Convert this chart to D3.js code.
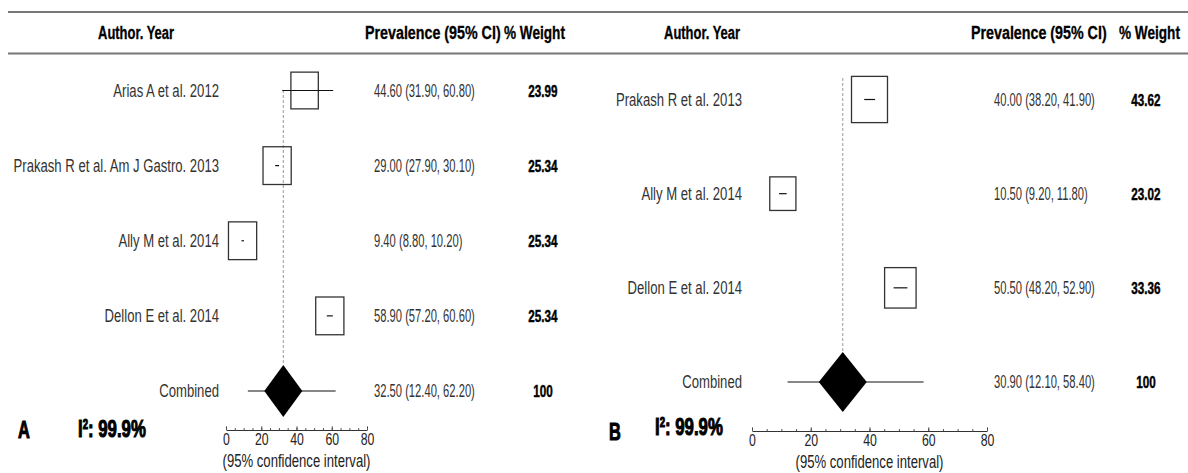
<!DOCTYPE html>
<html>
<head>
<meta charset="utf-8">
<script src="https://cdn.jsdelivr.net/npm/d3@7"></script>
<style>
  html, body { margin: 0; padding: 0; background: #fff; }
  svg { display: block; }
</style>
</head>
<body>
<svg id="chart" width="1188" height="473"></svg>
<script>
// Panel A: eosinophilic oesophagitis prevalence studies
const studiesA = ["Arias A et al. 2012", "Prakash R et al. Am J Gastro. 2013", "Ally M et al. 2014", "Dellon E et al. 2014"];
const estA = [44.60, 29.00, 9.40, 58.90];
const lowA = [31.90, 27.90, 8.80, 57.20];
const highA = [60.80, 30.10, 10.20, 60.60];
const weightA = [23.99, 25.34, 25.34, 25.34];
const combinedA = [32.50, 12.40, 62.20];
const i2A = "99.9%";

// Panel B
const studiesB = ["Prakash R et al. 2013", "Ally M et al. 2014", "Dellon E et al. 2014"];
const estB = [40.00, 10.50, 50.50];
const lowB = [38.20, 9.20, 48.20];
const highB = [41.90, 11.80, 52.90];
const weightB = [43.62, 23.02, 33.36];
const combinedB = [30.90, 12.10, 58.40];
const i2B = "99.9%";

const axisTicks = [0, 20, 40, 60, 80];
const minorTicks = d3.range(0, 81, 5);

const svg = d3.select("#chart");
const FONT = "'Liberation Sans', Arial, sans-serif";

// Text drawn with a narrow, slightly tall squeeze
function label(g, x, y, s, o = {}) {
  return g.append("text")
    .attr("transform", `translate(${x},${y}) scale(${o.sx || 0.82},${o.sy || 1.12})`)
    .attr("text-anchor", o.anchor || "start")
    .attr("fill", o.fill || "#222")
    .attr("stroke", o.stroke || "none")
    .attr("stroke-width", o.strokeWidth || 0)
    .attr("font-family", FONT)
    .attr("font-size", o.size || 16)
    .attr("font-weight", o.weight || "normal")
    .text(s);
}

function panel(cfg) {
  const g = svg.append("g");
  const names = [...cfg.studies, "Combined"];
  const x = d3.scaleLinear().domain([0, 80]).range(cfg.xRange);
  const y = d3.scalePoint().domain(names).range(cfg.yRange);

  // header rules
  g.append("line").attr("x1", cfg.lineX[0]).attr("x2", cfg.lineX[1])
    .attr("y1", 12).attr("y2", 12).attr("stroke", "#777").attr("stroke-width", 2);
  g.append("line").attr("x1", cfg.lineX[0]).attr("x2", cfg.lineX[1])
    .attr("y1", 53.5).attr("y2", 53.5).attr("stroke", "#777").attr("stroke-width", 2);

  // header texts
  const hdr = { size: 17, weight: "bold", fill: "#000", stroke: "#000", strokeWidth: 0.3, sy: 1.1 };
  label(g, cfg.authorX, 39, "Author. Year", { ...hdr, anchor: "middle", sx: 0.76 });
  label(g, cfg.prevX, 39, "Prevalence (95% CI)", { ...hdr, sx: 0.84 });
  label(g, cfg.weightX, 39, "% Weight", { ...hdr, sx: 0.8 });

  // reference line at the pooled estimate
  const yDiamond = y("Combined");
  g.append("line")
    .attr("x1", x(cfg.combined[0])).attr("x2", x(cfg.combined[0]))
    .attr("y1", cfg.refTop).attr("y2", yDiamond - cfg.dH)
    .attr("stroke", "#999").attr("stroke-width", 1).attr("stroke-dasharray", "3,2");

  const wStyle = { size: 15, weight: "bold", anchor: "middle", sx: 0.78, sy: 1.12, fill: "#000", stroke: "#000", strokeWidth: 0.4 };
  const vStyle = { size: 16, sx: 0.7, sy: 1.12, fill: "#333" };
  const nStyle = { size: 16, anchor: "end", fill: "#333" };

  // studies
  cfg.studies.forEach((s, i) => {
    const cy = y(s);
    const bw = cfg.kW * Math.sqrt(cfg.weights[i]);
    const bh = cfg.kH * Math.sqrt(cfg.weights[i]);
    g.append("rect")
      .attr("x", x(cfg.est[i]) - bw / 2).attr("y", cy - bh / 2)
      .attr("width", bw).attr("height", bh)
      .attr("fill", "none").attr("stroke", "#333").attr("stroke-width", 1.3);
    g.append("line")
      .attr("x1", x(cfg.low[i])).attr("x2", x(cfg.high[i]))
      .attr("y1", cy).attr("y2", cy)
      .attr("stroke", "#111").attr("stroke-width", 1.2);
    label(g, cfg.labelX, cy + 6, s, nStyle);
    label(g, cfg.valX, cy + 6,
      `${cfg.est[i].toFixed(2)} (${cfg.low[i].toFixed(2)}, ${cfg.high[i].toFixed(2)})`, vStyle);
    label(g, cfg.wX, cy + 6, cfg.weights[i].toFixed(2), wStyle);
  });

  // pooled estimate
  const c = cfg.combined;
  g.append("line")
    .attr("x1", x(c[1])).attr("x2", x(c[2]))
    .attr("y1", yDiamond).attr("y2", yDiamond)
    .attr("stroke", "#111").attr("stroke-width", 1.2);
  const cx = x(c[0]);
  g.append("path")
    .attr("d", `M${cx - cfg.dW},${yDiamond} L${cx},${yDiamond - cfg.dH} L${cx + cfg.dW},${yDiamond} L${cx},${yDiamond + cfg.dH} Z`)
    .attr("fill", "#000");
  label(g, cfg.labelX, yDiamond + 6, "Combined", nStyle);
  label(g, cfg.valX, yDiamond + 6, `${c[0].toFixed(2)} (${c[1].toFixed(2)}, ${c[2].toFixed(2)})`, vStyle);
  label(g, cfg.wX, yDiamond + 6, "100", wStyle);

  // x axis with upward ticks
  const ax = g.append("g").attr("transform", `translate(0,${cfg.axisY})`);
  ax.call(d3.axisBottom(x).tickValues(axisTicks).tickSizeInner(-3.5).tickSizeOuter(0).tickPadding(3));
  ax.attr("font-size", 15).attr("font-family", FONT);
  ax.select(".domain").attr("stroke", "#333");
  ax.selectAll(".tick line").attr("stroke", "#333");
  ax.selectAll(".tick text")
    .attr("transform", "scale(0.82,1.12)")
    .attr("fill", "#222");
  const mn = g.append("g").attr("transform", `translate(0,${cfg.axisY})`);
  mn.call(d3.axisBottom(x).tickValues(minorTicks).tickSizeInner(-2).tickSizeOuter(0).tickFormat(""));
  mn.select(".domain").remove();
  mn.selectAll(".tick line").attr("stroke", "#555");

  label(g, (cfg.xRange[0] + cfg.xRange[1]) / 2, cfg.axisY + 37, "(95% confidence interval)",
    { size: 16, anchor: "middle", fill: "#222" });

  // panel letter and heterogeneity
  const big = { size: 21, weight: "bold", fill: "#000", stroke: "#000", strokeWidth: 0.9, sy: 1.15 };
  label(g, cfg.letterX, cfg.letterY, cfg.letter, { ...big, sx: 0.78 });
  const t = label(g, cfg.i2X, cfg.i2Y, "", { ...big, sx: 0.8 });
  t.append("tspan").text("I");
  t.append("tspan").attr("dy", -7).attr("font-size", 12).text("2");
  t.append("tspan").attr("dy", 7).text(": " + cfg.i2);
}

panel({
  studies: studiesA, est: estA, low: lowA, high: highA, weights: weightA, combined: combinedA, i2: i2A,
  xRange: [226, 367], yRange: [90.5, 391], axisY: 430,
  lineX: [8, 594], authorX: 136, prevX: 365, weightX: 504,
  labelX: 219, valX: 374, wX: 543,
  refTop: 90, kW: 5.6, kH: 7.5, dW: 19, dH: 26,
  letter: "A", letterX: 18, letterY: 438, i2X: 78, i2Y: 437
});

panel({
  studies: studiesB, est: estB, low: lowB, high: highB, weights: weightB, combined: combinedB, i2: i2B,
  xRange: [752, 987], yRange: [99.5, 382], axisY: 431,
  lineX: [594, 1188], authorX: 702, prevX: 971, weightX: 1119,
  labelX: 742, valX: 994, wX: 1146,
  refTop: 78, kW: 5.45, kH: 7.0, dW: 24, dH: 30,
  letter: "B", letterX: 609, letterY: 440, i2X: 655, i2Y: 435
});
</script>
</body>
</html>
